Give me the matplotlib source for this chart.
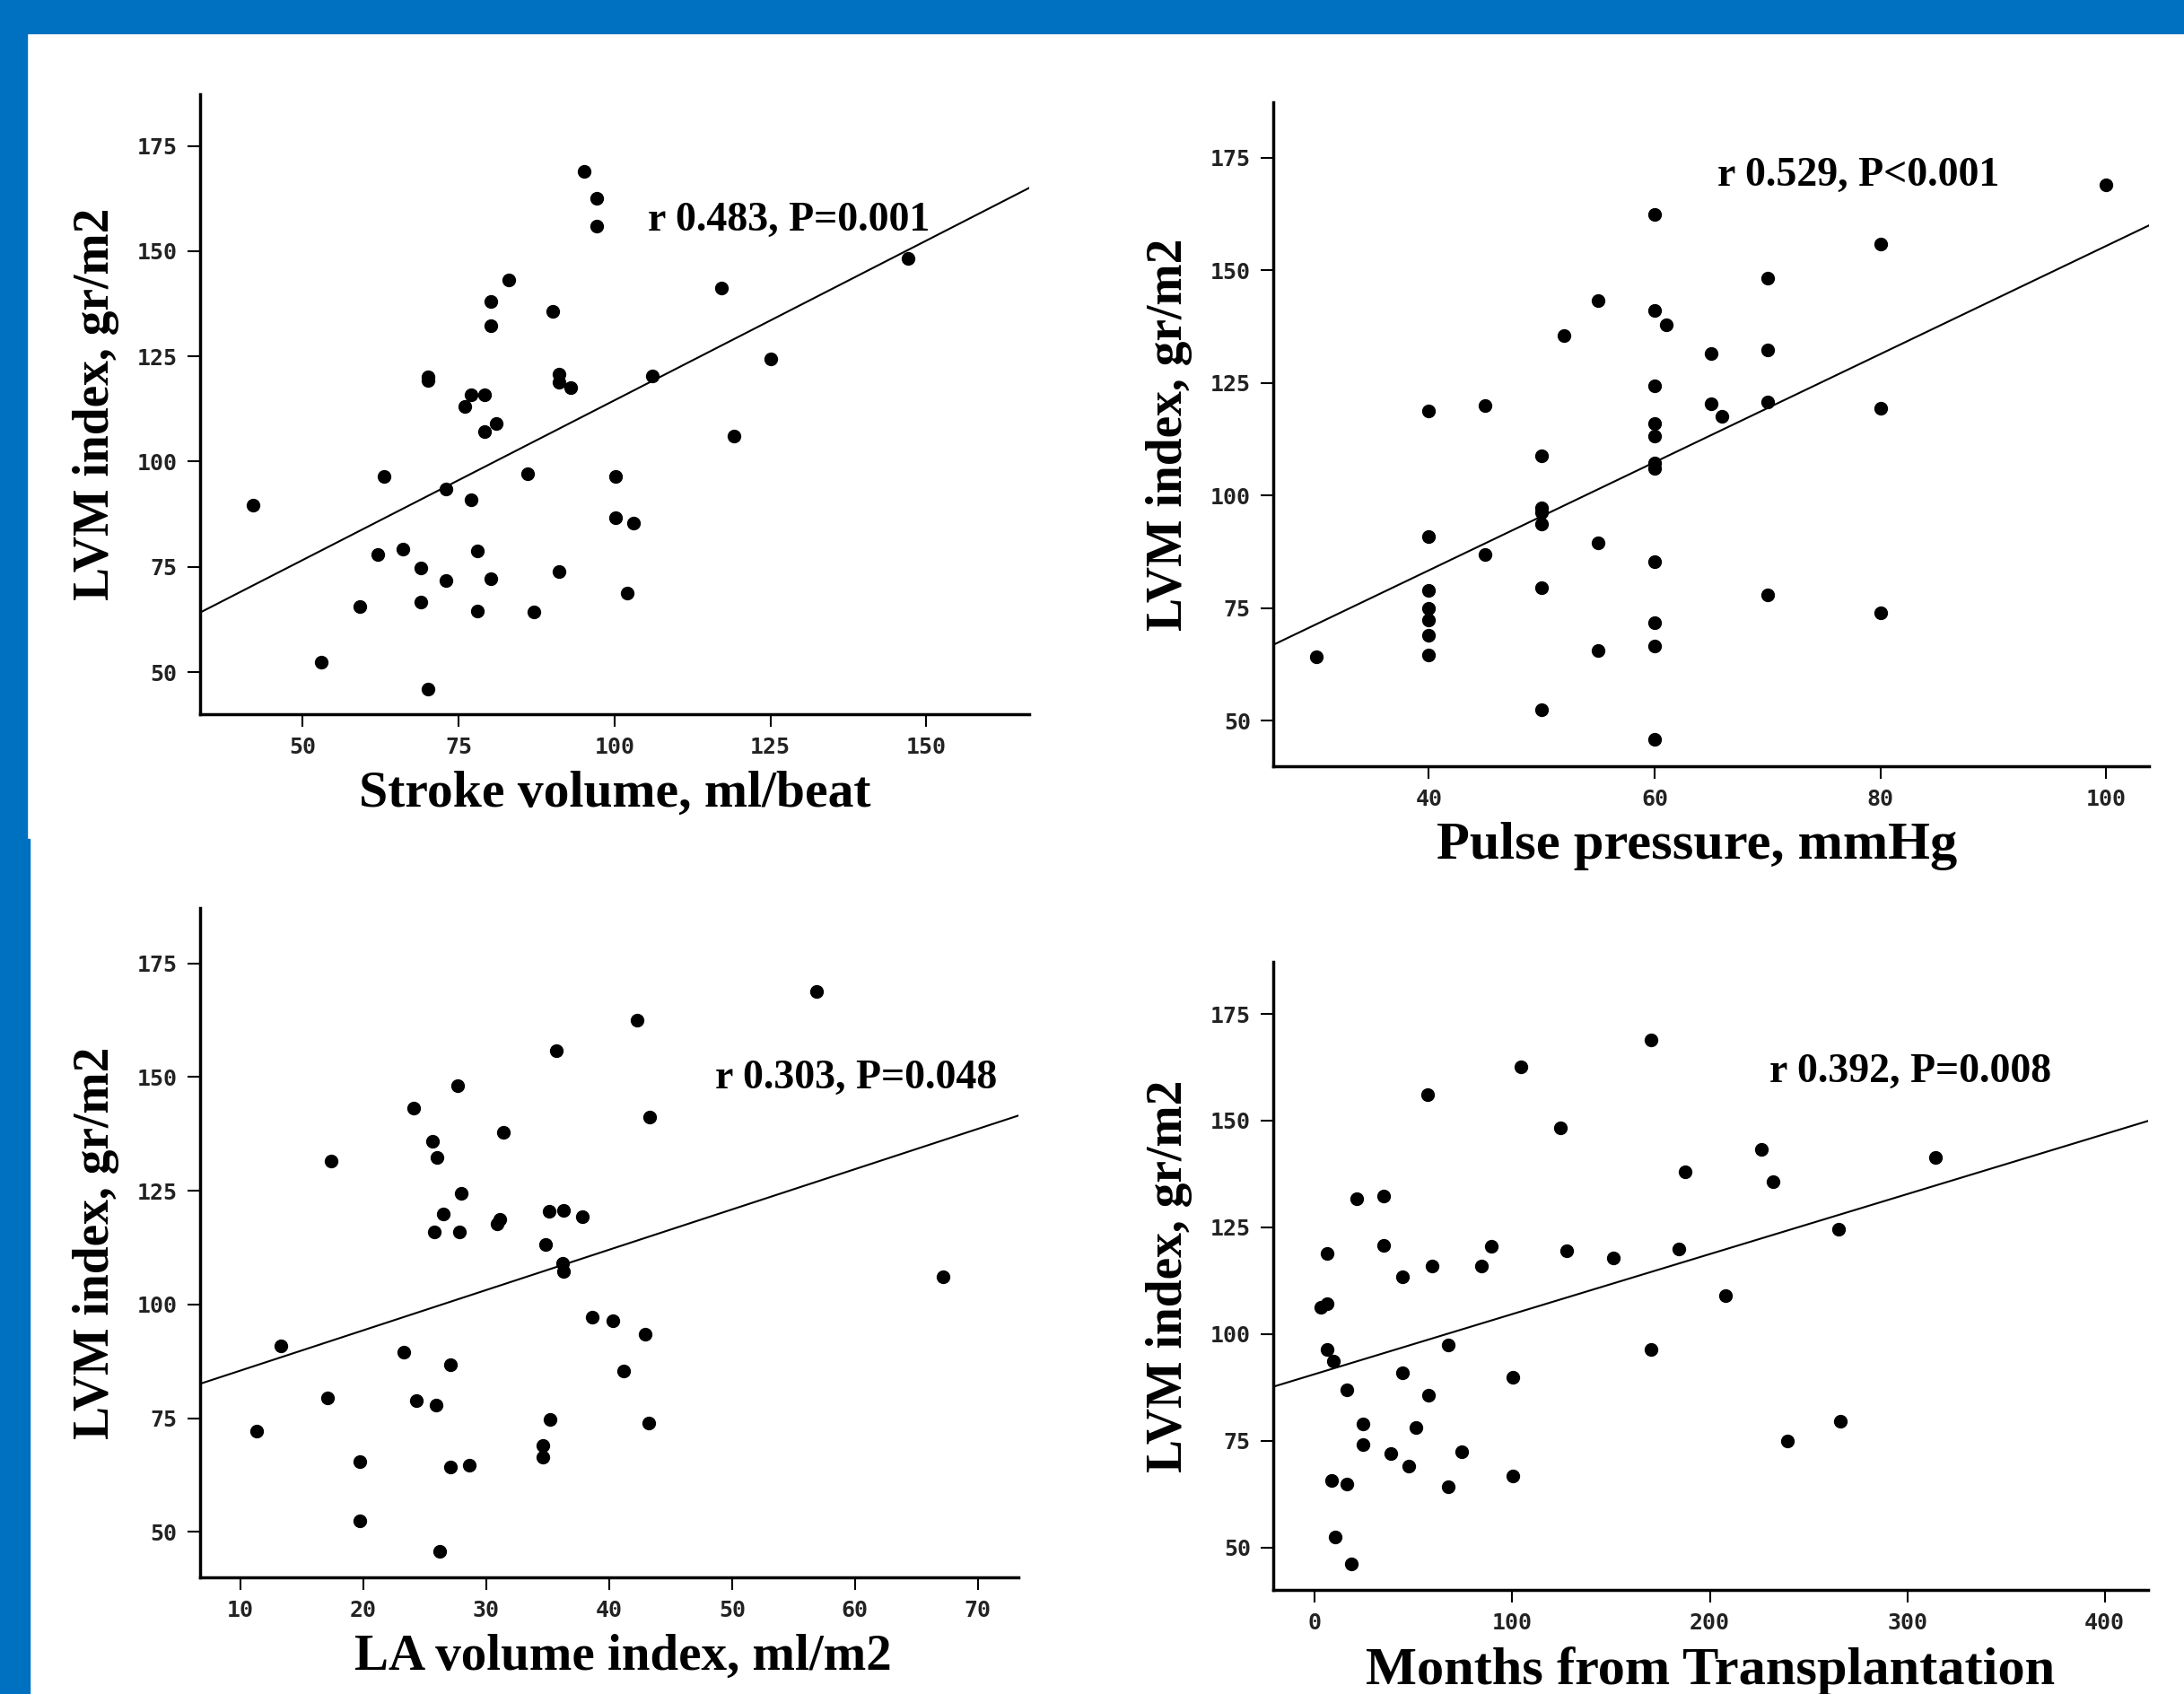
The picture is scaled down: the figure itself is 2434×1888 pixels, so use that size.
''' LVM index vs. four clinical variables, 2x2 scatter with fit lines '''

import numpy as np
import matplotlib.pyplot as plt
from matplotlib.patches import Rectangle

BLUE = '#0070C0'
SERIF = ['Liberation Serif', 'DejaVu Serif']
MONO = ['DejaVu Sans Mono']

# --- stroke volume ---
sv_x = [42.1, 53.0, 59.1, 62.1, 63.1, 66.0, 69.0, 69.0, 70.1, 70.1, 70.1,
        73.0, 73.0, 76.0, 77.0, 77.0, 78.0, 78.0, 79.1, 79.1, 80.1, 80.1,
        80.1, 81.1, 83.1, 86.1, 87.1, 90.1, 91.1, 91.1, 91.1, 93.0, 95.1,
        97.2, 97.2, 100.1, 100.1, 102.1, 103.1, 106.1, 117.2, 119.1, 125.1,
        147.1]
sv_y = [89.6, 52.3, 65.5, 77.9, 96.4, 79.3, 74.8, 66.6, 120.1, 119.2, 45.9,
        93.4, 71.7, 113.2, 115.9, 90.9, 78.8, 64.6, 115.9, 107.2, 138.0, 132.2,
        72.2, 109.0, 143.1, 97.1, 64.3, 135.7, 120.8, 118.9, 73.9, 117.6, 169.0,
        162.5, 156.0, 96.4, 86.7, 68.8, 85.5, 120.4, 141.2, 106.1, 124.4,
        148.3]
sv_fit = (38.7, 0.7586)

# --- pulse pressure ---
pp_x = [30, 40, 40, 40, 40, 40, 40, 40, 45, 45, 50, 50, 50, 50, 50, 50,
        52, 55, 55, 55, 60, 60, 60, 60, 60, 60, 60, 60, 60, 60, 60, 61,
        65, 65, 66, 70, 70, 70, 70, 80, 80, 80, 100]
pp_y = [64.2, 118.7, 90.8, 79.0, 74.9, 72.3, 68.9, 64.6, 119.9, 86.9,
        108.9, 97.2, 96.2, 93.6, 79.5, 52.4, 135.6, 143.2, 89.6, 65.6,
        162.4, 141.1, 124.4, 116.0, 113.2, 107.2, 106.0, 85.4, 71.7, 66.6,
        45.9, 137.9, 131.5, 120.4, 117.6, 148.2, 132.3, 120.8, 77.9, 155.8,
        119.3, 73.9, 168.9]
pp_fit = (35.4, 1.2)

# --- LA volume index ---
la_x = [11.3, 13.3, 17.1, 17.4, 19.7, 19.7, 23.3, 24.1, 24.3, 25.6, 25.8,
        25.9, 26.0, 26.2, 26.5, 27.1, 27.1, 27.7, 27.8, 28.0, 28.6, 30.9,
        31.1, 31.4, 34.6, 34.6, 34.8, 35.1, 35.2, 35.7, 36.2, 36.3, 36.3,
        37.8, 38.6, 40.3, 41.2, 42.3, 42.9, 43.2, 43.3, 56.9, 67.2]
la_y = [72.2, 90.9, 79.4, 131.6, 65.5, 52.4, 89.6, 143.1, 78.9, 135.8, 115.9,
        77.9, 132.3, 45.8, 119.9, 86.8, 64.3, 148.2, 115.9, 124.5, 64.6, 117.7,
        118.7, 137.9, 69.0, 66.5, 113.2, 120.4, 74.7, 155.8, 109.1, 107.2,
        120.6, 119.3, 97.2, 96.4, 85.4, 162.5, 93.4, 73.9, 141.3, 168.9, 106.0]
la_fit = (76.6, 0.886)

# --- months from transplantation ---
mo_x = [3.2, 6.3, 6.3, 6.3, 9.2, 8.5, 10.2, 16.2, 16.2, 18.3, 21.2, 24.3,
        24.3, 34.6, 34.6, 38.4, 44.4, 44.4, 47.3, 51.1, 57.1, 57.5, 59.3,
        67.4, 67.4, 74.4, 84.3, 89.2, 100.2, 100.2, 104.4, 124.5, 127.3,
        151.3, 170.0, 170.0, 184.1, 187.3, 208.1, 226.1, 232.1, 239.2, 265.3,
        266.3, 314.3]
mo_y = [106.2, 107.1, 118.9, 96.4, 93.7, 65.7, 52.5, 86.9, 64.8, 46.1, 131.7,
        79.0, 74.1, 132.3, 120.8, 71.9, 113.3, 91.0, 69.0, 78.0, 156.1, 85.6,
        116.0, 97.4, 64.3, 72.4, 116.0, 120.5, 89.8, 66.7, 162.6, 148.4, 119.4,
        117.8, 169.0, 96.4, 120.0, 138.1, 109.0, 143.2, 135.7, 74.9, 124.5,
        79.5, 141.3]
mo_fit = (90.6, 0.1406)

y_ticks = [50, 75, 100, 125, 150, 175]
y_lim = (40, 187.2)


def draw_panel(rect, x, y, fit, xlim, xticks, xlabel, xsize, xlab_x,
               note, note_xy):
    ax = fig.add_axes(rect)
    ax.plot(x, y, 'o', color='black', markersize=10, zorder=3)
    xs = np.array(xlim)
    ax.plot(xs, fit[0] + fit[1] * xs, color='black', linewidth=1.5)
    ax.set_xlim(xlim)
    ax.set_ylim(y_lim)
    ax.set_xticks(xticks)
    ax.set_yticks(y_ticks)
    for s in ['top', 'right']:
        ax.spines[s].set_visible(False)
    for s in ['left', 'bottom']:
        ax.spines[s].set_linewidth(2.5)
    ax.tick_params(length=10, width=1.5, pad=8)
    for lab in ax.get_xticklabels() + ax.get_yticklabels():
        lab.set_fontfamily(MONO)
        lab.set_fontweight('bold')
        lab.set_fontsize(18)
        lab.set_color('#222222')
    ax.set_xlabel(xlabel, family=SERIF, fontweight='bold', fontsize=xsize,
                  labelpad=10)
    ax.xaxis.label.set_x(xlab_x)
    ax.set_ylabel('LVM index, gr/m2', family=SERIF, fontweight='bold',
                  fontsize=40, labelpad=14)
    ax.text(note_xy[0], note_xy[1], note, family=SERIF, fontweight='bold',
            fontsize=33, va='baseline', ha='left')
    return ax


fig = plt.figure(figsize=(24.34, 18.88), dpi=100)
fig.patch.set_facecolor('white')

# blue frame of the slide
fig.patches.append(Rectangle((0, 1 - 37 / 1888), 1, 37 / 1888,
                             transform=fig.transFigure, color=BLUE, zorder=0))
fig.patches.append(Rectangle((0, 1 - 935 / 1888), 30 / 2434, 935 / 1888,
                             transform=fig.transFigure, color=BLUE, zorder=0))
fig.patches.append(Rectangle((0, 0), 33 / 2434, 1 - 935 / 1888,
                             transform=fig.transFigure, color=BLUE, zorder=0))

draw_panel([0.0915, 0.5784, 0.3797, 0.3658], sv_x, sv_y, sv_fit,
           (33.5, 166.5), [50, 75, 100, 125, 150],
           'Stroke volume, ml/beat', 41.5, 0.5,
           'r 0.483, P=0.001', (105.4, 154.8))
draw_panel([0.5829, 0.5479, 0.4011, 0.3915], pp_x, pp_y, pp_fit,
           (26.2, 103.8), [40, 60, 80, 100],
           'Pulse pressure, mmHg', 43.5, 0.484,
           'r 0.529, P<0.001', (65.6, 168.7))
draw_panel([0.0915, 0.0689, 0.3748, 0.3951], la_x, la_y, la_fit,
           (6.7, 73.3), [10, 20, 30, 40, 50, 60, 70],
           'LA volume index, ml/m2', 41, 0.517,
           'r 0.303, P=0.048', (48.65, 147.6))
draw_panel([0.5829, 0.0614, 0.4007, 0.3708], mo_x, mo_y, mo_fit,
           (-21.2, 422), [0, 100, 200, 300, 400],
           'Months from Transplantation', 43.5, 0.5,
           'r 0.392, P=0.008', (230, 159.0))

fig.savefig('out.png', dpi=100, facecolor='white')
